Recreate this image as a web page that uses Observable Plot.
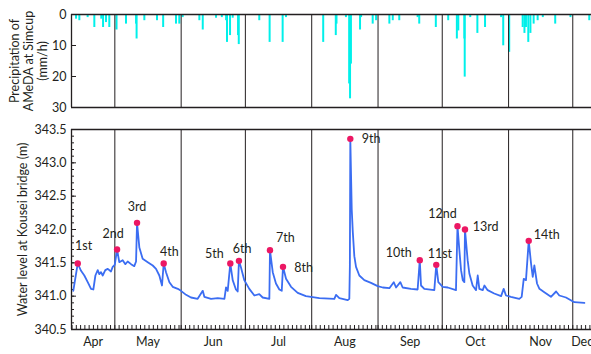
<!DOCTYPE html>
<html><head><meta charset="utf-8">
<script src="https://cdn.jsdelivr.net/npm/d3@7"></script>
<script src="https://cdn.jsdelivr.net/npm/@observablehq/plot@0.6"></script>
<style>body{margin:0;background:#fff;} #chart svg{display:block;}</style>
</head><body><div id="chart"></div>
<script>
const YEAR = 2011;

// Water level at Kousei bridge (m)
const levelTimes = ["04-11T14","04-13T16","04-15T05","04-16T18","04-18T08","04-19T21","04-20T23","04-21T22","04-23T00","04-23T18","04-24T13","04-25T08","04-26T13","04-27T17","04-29T05","04-30T00","04-30T23","05-02T01","05-03T02","05-04T16","05-05T22","05-07T00","05-08T14","05-10T02","05-10T22","05-11T09","05-12T11","05-14T00","05-16T09","05-18T17","05-20T06","05-21T19","05-23T01","05-23T20","05-24T22","05-26T12","05-28T01","05-30T10","05-31T22","06-03T07","06-05T14","06-08T17","06-11T02","06-11T20","06-14T23","06-18T02","06-21T05","06-21T23","06-22T18","06-23T23","06-25T02","06-26T14","06-27T10","06-28T00","06-28T23","06-30T12","07-02T20","07-05T05","07-07T12","07-09T02","07-12T05","07-12T12","07-13T19","07-15T07","07-16T21","07-18T00","07-18T14","07-20T00","07-22T08","07-25T11","07-29T07","08-04T14","08-11T14","08-12T09","08-13T22","08-17T20","08-18T14","08-18T20","08-19T01","08-19T17","08-20T05","08-20T22","08-21T17","08-23T06","08-25T14","08-28T17","08-31T20","09-03T05","09-06T07","09-08T08","09-09T10","09-11T10","09-12T12","09-16T09","09-19T12","09-20T12","09-21T02","09-22T15","09-27T07","09-28T05","09-29T04","10-01T05","10-03T14","10-07T10","10-08T03","10-09T00","10-09T19","10-10T14","10-11T08","10-11T15","10-12T21","10-13T16","10-15T05","10-16T19","10-17T14","10-18T08","10-19T22","10-20T17","10-22T05","10-25T07","10-28T12","10-29T17","10-30T19","11-02T02","11-06T00","11-07T03","11-08T02","11-09T03","11-10T10","11-11T12","11-12T07","11-13T01","11-14T07","11-15T10","11-17T17","11-20T19","11-23T05","11-24T17","11-27T20","12-01T17","12-06T10"];
const levelValues = [341.08,341.49,341.38,341.31,341.21,341.11,341.10,341.31,341.39,341.33,341.36,341.31,341.39,341.41,341.37,341.44,341.47,341.70,341.51,341.54,341.48,341.52,341.48,341.45,341.52,342.10,341.73,341.56,341.51,341.46,341.41,341.31,341.16,341.49,341.36,341.21,341.14,341.11,341.08,341.02,340.98,340.96,341.08,340.99,340.96,340.97,340.96,341.13,341.08,341.49,341.24,341.10,341.07,341.53,341.43,341.24,341.11,341.01,341.03,340.98,340.96,341.69,341.36,341.19,341.10,341.08,341.44,341.26,341.14,341.05,341.00,340.97,340.96,341.02,340.97,340.94,340.96,341.45,343.36,342.30,341.96,341.60,341.44,341.31,341.24,341.20,341.15,341.13,341.12,341.21,341.13,341.21,341.13,341.11,341.10,341.54,341.16,341.11,341.09,341.47,341.21,341.14,341.13,341.09,342.05,341.69,341.39,341.24,341.21,342.00,341.54,341.34,341.16,341.09,341.31,341.11,341.09,341.16,341.09,341.04,341.00,341.11,341.01,340.99,340.96,340.99,341.26,341.24,341.83,341.49,341.29,341.46,341.19,341.11,341.06,340.99,341.07,341.01,340.98,340.91,340.90];

// Flood peaks
const peakLabels = ["1st","2nd","3rd","4th","5th","6th","7th","8th","9th","10th","11st","12nd","13rd","14th"];
const peakTimes = ["04-13T16","05-02T01","05-11T09","05-23T20","06-23T23","06-28T00","07-12T12","07-18T14","08-19T01","09-20T12","09-28T05","10-08T03","10-11T15","11-10T10"];
const peakValues = [341.49,341.70,342.10,341.49,341.49,341.53,341.69,341.44,343.36,341.54,341.47,342.05,342.00,341.83];

// Precipitation of AMeDA at Simcup (mm/h)
const rainTimes = ["04-12T21","04-14T10","04-18T07","04-21T10","04-24T16","04-25T12","04-26T21","04-28T10","05-01T19","05-06T05","05-10T22","05-11T04","05-14T19","05-20T17","05-23T14","05-29T14","05-31T03","06-01T17","06-09T12","06-11T02","06-17T07","06-20T00","06-22T00","06-22T10","06-23T20","06-25T02","06-27T14","06-27T22","07-07T12","07-12T08","07-18T10","07-20T00","08-06T09","08-12T06","08-12T14","08-17T00","08-18T12","08-18T22","08-19T08","08-23T14","08-24T02","08-29T12","08-31T02","09-06T07","09-07T21","09-10T22","09-19T12","09-20T06","09-28T00","10-03T19","10-07T20","10-08T12","10-11T08","10-11T12","10-14T02","10-17T10","10-21T00","10-28T12","10-29T12","11-01T07","11-07T14","11-08T10","11-09T03","11-10T05","11-11T05","11-12T17","11-14T14","11-17T00","11-22T19","11-29T22","12-08T17"];
const rainValues = [1.5,2.0,1.0,4.2,1.5,4.2,2.6,4.2,5.0,3.1,3.1,7.9,2.0,2.0,4.2,3.1,3.1,1.0,2.0,5.0,1.2,1.0,2.0,9.0,6.8,1.2,6.8,9.7,2.0,9.0,9.0,1.0,9.0,6.8,3.1,1.0,22.4,27.2,16.0,5.0,1.0,3.1,2.0,3.1,2.0,2.0,1.0,3.1,4.2,2.0,7.9,5.3,7.9,20.2,1.0,6.1,4.2,1.0,10.1,12.2,4.2,6.1,4.2,9.0,6.1,3.1,2.0,1.0,3.1,1.0,2.0];

const monthNames = ["Apr","May","Jun","Jul","Aug","Sep","Oct","Nov","Dec"];
const monthStartTimes = ["05-01T00","06-01T00","07-01T00","08-01T00","09-01T00","10-01T00","11-01T00","12-01T00"];
const levelTicks = [340.5,341.0,341.5,342.0,342.5,343.0,343.5];
const rainTicks = [0,10,20,30];

// layout (not data): label offsets [dx, dy, anchor]
const labelLayout = {
  "1st":[-2.7,-17.6,"start"], "2nd":[-4,-16,"middle"], "3rd":[0,-16,"middle"], "4th":[-3.7,-11.6,"start"],
  "5th":[-6.6,-9.3,"end"], "6th":[-6.3,-11.4,"start"], "7th":[6,-12.3,"start"], "8th":[11.3,1,"start"],
  "9th":[11.4,0,"start"], "10th":[-8,-6.7,"end"], "11st":[-8.6,-11,"start"], "12nd":[-0.7,-12,"end"],
  "13rd":[7.7,-2.6,"start"], "14th":[5,-5.7,"start"]
};

const parse = s => new Date(`${YEAR}-${s}:00Z`);
const level = levelTimes.map((t,i)=>({t:parse(t), v:levelValues[i]}));
const peaks = peakTimes.map((t,i)=>({t:parse(t), v:peakValues[i], label:peakLabels[i]}));
const rain = rainTimes.map((t,i)=>({t:parse(t), v:rainValues[i]}));
const monthStarts = monthStartTimes.map(parse);
const xDomain = [parse("04-10T18"), parse("12-09T18")];

const W = 591, ML = 71;
const INK = "#231f20";
const FONT = 12.5;
const style = {fontFamily:"Lato, 'Open Sans', sans-serif", fontSize:"12.5px", color:INK, background:"#fff", overflow:"visible"};
const xScale = {type:"utc", domain:xDomain, axis:null};

// Top panel
const topH = 114, topMT = 14, topMB = 7;
const rainPlot = Plot.plot({
  width:W, height:topH, marginLeft:ML, marginRight:0, marginTop:topMT, marginBottom:topMB,
  style,
  x: xScale,
  y: {domain:[0,30], reverse:true, ticks:rainTicks, tickSize:0, tickPadding:5, label:null},
  marks: [
    Plot.ruleX(rain, {x:"t", y1:0, y2:"v", stroke:"#00f0ea", strokeWidth:2}),
    Plot.ruleX(monthStarts, {stroke:INK, strokeWidth:1}),
    Plot.ruleY([10,20], {stroke:INK, insetRight: (W-ML)-5}),
    Plot.ruleY([0,30], {stroke:INK, strokeWidth:1.3}),
    Plot.ruleX([xDomain[0]], {stroke:INK, strokeWidth:1.3}),
    Plot.text(["Precipitation of\nAMeDA at Simcup\n(mm/h)"], {frameAnchor:"left", rotate:-90, dx:-43, textAnchor:"middle", lineAnchor:"middle", lineHeight:1.15, fontSize:FONT, fill:INK})
  ]
});

// Bottom panel
const botH = 240, botMT = 15, botMB = 25;
const frameH = botH - botMT - botMB;
const dayTicks = d3.utcDay.every(2).range(xDomain[0], xDomain[1]);
const minorY = d3.range(3405, 3436).map(d=>d/10);
const monthBounds = [xDomain[0], ...monthStarts, xDomain[1]];
const monthLabels = monthNames.map((m,i)=>({m, t:new Date((+monthBounds[i] + +monthBounds[i+1])/2)}));

const levelPlot = Plot.plot({
  width:W, height:botH, marginLeft:ML, marginRight:0, marginTop:botMT, marginBottom:botMB,
  style,
  x: xScale,
  y: {domain:[340.5,343.5], ticks:levelTicks, tickFormat:d=>d.toFixed(1), tickSize:0, tickPadding:5, label:null},
  marks: [
    Plot.ruleX(monthStarts, {stroke:INK, strokeWidth:1}),
    Plot.ruleX(dayTicks, {stroke:INK, insetTop: frameH-4}),
    Plot.ruleY(minorY, {stroke:INK, insetRight:(W-ML)-3}),
    Plot.ruleY(levelTicks, {stroke:INK, insetRight:(W-ML)-5}),
    Plot.line(level, {x:"t", y:"v", stroke:"#3b6df2", strokeWidth:1.8}),
    Plot.dot(peaks, {x:"t", y:"v", r:3.2, fill:"#ec1763", stroke:null}),
    ...peaks.map(p => {
      const [dx,dy,anchor] = labelLayout[p.label];
      return Plot.text([p], {x:"t", y:"v", text:"label", dx, dy, textAnchor:anchor, fontSize:FONT, fill:INK});
    }),
    Plot.text(monthLabels, {x:"t", text:"m", frameAnchor:"bottom", dy:16, fontSize:FONT, fill:INK}),
    Plot.ruleY([343.5,340.5], {stroke:INK, strokeWidth:1.3}),
    Plot.ruleX([xDomain[0]], {stroke:INK, strokeWidth:1.3}),
    Plot.text(["Water level at Kousei bridge (m)"], {frameAnchor:"left", rotate:-90, dx:-49, textAnchor:"middle", fontSize:FONT, fill:INK})
  ]
});

const el = document.getElementById("chart");
el.appendChild(rainPlot);
el.appendChild(levelPlot);
</script>
</body></html>
